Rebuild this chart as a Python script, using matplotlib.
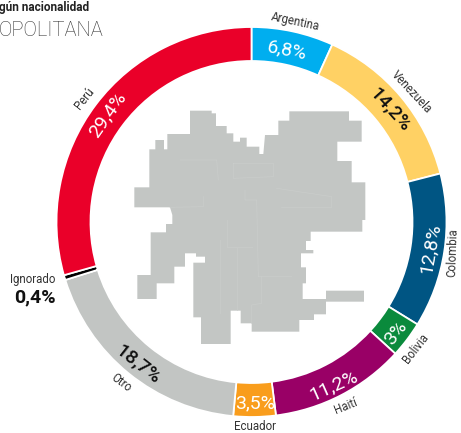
import matplotlib
matplotlib.use("Agg")
import matplotlib.pyplot as plt
from matplotlib.patches import Polygon

WIDTH = 461
HEIGHT = 433

# clockwise from the top of the ring
countries = ["Argentina", "Venezuela", "Colombia", "Bolivia", "Haití", "Ecuador", "Otro", "Ignorado", "Perú"]
shares = [6.8, 14.2, 12.8, 3.0, 11.2, 3.5, 18.7, 0.4, 29.4]
share_labels = ["6,8%", "14,2%", "12,8%", "3%", "11,2%", "3,5%", "18,7%", "0,4%", "29,4%"]
colors = ["#00AEEF", "#FFD164", "#005583", "#0A8A3C", "#990066", "#F99D1C", "#C2C5C3", "#000000", "#EA0029"]
value_colors = ["white", "#111111", "white", "white", "white", "white", "#111111", "#111111", "white"]

# label placement in image pixels: x, y, rotation
name_pos = [(295, 22, -12), (412, 92, -47), (453, 253, 88), (416, 348, 52), (346, 406, 22),
            (255, 426, 0), (121, 383, -37), (33, 280, 0), (85, 99, 52)]
value_pos = [(287, 50, -11), (390, 110, -48), (430, 248, 80), (396, 333, 52), (334, 386, 24),
             (255, 403, 0), (138, 365, -38), (35, 297, 0), (108, 115, 55)]

# outline of the city map, traced in zoom coordinates
map_outline = [
    (210, 32), (275, 32), (275, 40), (288, 40), (288, 78), (320, 78), (320, 100), (340, 100),
    (340, 125), (360, 125), (360, 113), (380, 113), (380, 140), (418, 140), (418, 162), (430, 162),
    (435, 105), (475, 105), (475, 62), (508, 62), (508, 34), (687, 34), (687, 62), (725, 62),
    (725, 125), (652, 125), (652, 183), (695, 183), (695, 247), (736, 247), (736, 360), (727, 360),
    (727, 395), (572, 395), (572, 423), (558, 423), (558, 450), (580, 450), (580, 460), (543, 460),
    (543, 502), (558, 502), (558, 550), (548, 550), (548, 597), (618, 597), (618, 572), (732, 572),
    (732, 605), (618, 605), (618, 643), (582, 643), (582, 660), (538, 660), (538, 695), (395, 695),
    (395, 670), (362, 670), (362, 632), (332, 632), (332, 732), (243, 732), (243, 652), (220, 652),
    (220, 488), (255, 488), (255, 470), (228, 470), (228, 460), (195, 460), (195, 500), (163, 500),
    (163, 550), (110, 550), (110, 597), (52, 597), (52, 525), (92, 525), (92, 397), (138, 397),
    (138, 372), (157, 372), (157, 345), (150, 322), (43, 322), (43, 262), (88, 262), (88, 148),
    (106, 148), (106, 120), (132, 120), (132, 148), (142, 148), (142, 102), (210, 102),
]

# faint commune borders inside the map
map_borders = [
    [(250, 290), (250, 320), (150, 322)],
    [(375, 270), (375, 300), (410, 300), (415, 530), (515, 530)],
    [(300, 420), (300, 640)],
    [(350, 445), (350, 630)],
    [(320, 360), (320, 440), (395, 440)],
    [(425, 530), (425, 610), (395, 615), (395, 670)],
    [(485, 322), (635, 322), (635, 290), (470, 265)],
    [(340, 190), (340, 235), (460, 230), (460, 190), (340, 190)],
    [(180, 180), (290, 180), (295, 240)],
]


def py(y):
    return HEIGHT - y


def zoom_to_px(pt):
    return 120 + pt[0] / 3, py(100 + pt[1] / 3)


fig = plt.figure(figsize=(WIDTH / 100, HEIGHT / 100), dpi=100)
ax = fig.add_axes([0, 0, 1, 1])
plt.rcParams["font.family"] = ["Roboto", "DejaVu Sans"]

ax.pie(
    shares,
    colors=colors,
    startangle=90,
    counterclock=False,
    center=(251.5, py(222)),
    radius=195,
    wedgeprops=dict(width=34, edgecolor="white", linewidth=1.3),
    frame=True,
)

ax.add_patch(Polygon([zoom_to_px(p) for p in map_outline], closed=True, facecolor="#C3C6C4", edgecolor="none"))
for border in map_borders:
    pts = [zoom_to_px(p) for p in border]
    ax.plot([p[0] for p in pts], [p[1] for p in pts], color="#CACDCB", linewidth=0.5)

for name, pos in zip(countries, name_pos):
    ax.text(pos[0], py(pos[1]), name, fontsize=8.3, color="#333333", rotation=pos[2],
            ha="center", va="center", rotation_mode="anchor")

for i, (label, pos) in enumerate(zip(share_labels, value_pos)):
    if countries[i] == "Ignorado":
        weight = "bold"
    elif value_colors[i] == "white":
        weight = "regular"
    else:
        weight = "medium"
    ax.text(pos[0], py(pos[1]), label, fontsize=14, color=value_colors[i], rotation=pos[2],
            ha="center", va="center", rotation_mode="anchor", fontweight=weight)

ax.text(-1, py(7), "gún nacionalidad", fontsize=8.5, fontweight="bold", color="#222222", ha="left", va="center")
ax.text(-1, py(31), "OPOLITANA", fontsize=14.5, fontweight="light", color="#333333", ha="left", va="center")

ax.set_xlim(0, WIDTH)
ax.set_ylim(0, HEIGHT)
ax.set_aspect("equal")
ax.axis("off")

fig.savefig("out.png", dpi=100, facecolor="white")
plt.close(fig)
